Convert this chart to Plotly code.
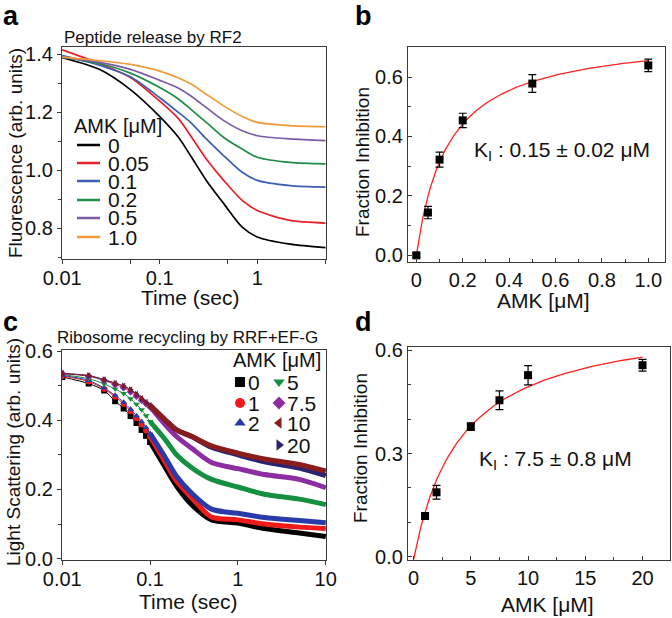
import numpy as np
import plotly.graph_objects as go

# ---------------- data ----------------
# Panel a: peptide release (fluorescence traces)
a_time = [0.01, 0.024, 0.05, 0.1, 0.156, 0.207, 0.3, 0.453, 0.7, 1.0, 2.17, 5.0]
a_labels = ["0", "0.05", "0.1", "0.2", "0.5", "1.0"]
a_black  = [1.388, 1.348, 1.278, 1.185, 1.113, 1.050, 0.965, 0.885, 0.804, 0.770, 0.745, 0.733]
a_red    = [1.415, 1.368, 1.320, 1.238, 1.177, 1.119, 1.039, 0.965, 0.896, 0.861, 0.827, 0.818]
a_blue   = [1.395, 1.362, 1.322, 1.250, 1.199, 1.165, 1.108, 1.050, 0.993, 0.965, 0.947, 0.942]
a_green  = [1.390, 1.368, 1.335, 1.285, 1.245, 1.211, 1.165, 1.113, 1.073, 1.045, 1.027, 1.022]
a_purple = [1.390, 1.372, 1.348, 1.310, 1.283, 1.257, 1.216, 1.171, 1.136, 1.119, 1.108, 1.102]
a_orange = [1.390, 1.378, 1.365, 1.342, 1.318, 1.298, 1.262, 1.222, 1.185, 1.165, 1.154, 1.150]

# Panel b: fraction inhibition vs AMK (peptide release)
b_amk = [0, 0.05, 0.1, 0.2, 0.5, 1.0]
b_frac = [0.0, 0.144, 0.322, 0.454, 0.578, 0.639]
b_err = [0.006, 0.021, 0.025, 0.024, 0.030, 0.021]
b_fit_max, b_fit_k = 0.745, 0.137

# Panel c: ribosome recycling (light scattering traces)
c_time = [0.01, 0.02, 0.03, 0.04, 0.05, 0.06, 0.07, 0.08, 0.09, 0.1, 0.15, 0.2, 0.3, 0.5, 1, 2, 5, 10]
c_labels = ["0", "1", "2", "5", "7.5", "10", "20"]
c_0   = [0.525, 0.506, 0.486, 0.455, 0.434, 0.412, 0.392, 0.372, 0.355, 0.337, 0.262, 0.210, 0.155, 0.112, 0.103, 0.087, 0.074, 0.064]
c_1   = [0.528, 0.512, 0.490, 0.468, 0.447, 0.426, 0.406, 0.388, 0.370, 0.353, 0.277, 0.224, 0.175, 0.120, 0.112, 0.100, 0.091, 0.087]
c_2   = [0.530, 0.515, 0.493, 0.472, 0.452, 0.432, 0.413, 0.396, 0.379, 0.362, 0.291, 0.238, 0.188, 0.143, 0.131, 0.119, 0.110, 0.104]
c_5   = [0.532, 0.520, 0.505, 0.490, 0.477, 0.462, 0.446, 0.430, 0.413, 0.396, 0.343, 0.300, 0.262, 0.229, 0.207, 0.186, 0.172, 0.156]
c_7_5 = [0.535, 0.527, 0.515, 0.503, 0.494, 0.482, 0.470, 0.458, 0.448, 0.439, 0.386, 0.353, 0.318, 0.278, 0.260, 0.243, 0.229, 0.205]
c_10  = [0.535, 0.529, 0.517, 0.507, 0.499, 0.488, 0.475, 0.463, 0.452, 0.443, 0.400, 0.372, 0.353, 0.326, 0.305, 0.288, 0.272, 0.253]
c_20  = [0.535, 0.529, 0.517, 0.507, 0.499, 0.488, 0.475, 0.463, 0.452, 0.443, 0.400, 0.372, 0.352, 0.322, 0.300, 0.280, 0.262, 0.240]

# Panel d: fraction inhibition vs AMK (recycling)
d_amk = [1, 2, 5, 7.5, 10, 20]
d_frac = [0.118, 0.187, 0.378, 0.455, 0.528, 0.557]
d_err = [0.008, 0.020, 0.011, 0.027, 0.028, 0.017]
d_fit_max, d_fit_k, d_fit_x0 = 0.703, 4.2, 0.05

# ---------------- styling ----------------
W, H = 672, 618
REG = "Liberation Sans, Arial, sans-serif"
AX = "#3a3a3a"

def px(x):
    return x / W

def py(y):
    return 1 - y / H

a_colors = ["#000000", "#e8202a", "#3b5fb3", "#1f8c48", "#7d5aa8", "#f39a38"]
c_colors = ["#000000", "#f01a1a", "#2a3aa8", "#159040", "#8e2ca2", "#8b1c1c", "#2b2470"]
c_symbols = ["square", "circle", "triangle-up", "triangle-down", "diamond", "triangle-left", "triangle-right"]

fig = go.Figure()

# Panel a
a_series = [a_black, a_red, a_blue, a_green, a_purple, a_orange]
for vals, col in zip(a_series, a_colors):
    fig.add_trace(go.Scatter(x=a_time, y=vals, mode="lines", line=dict(color=col, width=1.7, shape="spline", smoothing=0.8),
                             xaxis="x", yaxis="y", showlegend=False))

# Panel b
bx = np.linspace(0, 1.0, 200)
fig.add_trace(go.Scatter(x=bx, y=b_fit_max * bx / (b_fit_k + bx), mode="lines", line=dict(color="#ff2020", width=1.3),
                         xaxis="x2", yaxis="y2", showlegend=False))
fig.add_trace(go.Scatter(x=b_amk, y=b_frac, mode="markers", marker=dict(symbol="square", size=8, color="#000000"),
                         error_y=dict(type="data", array=b_err, color="#000000", thickness=1.2, width=4),
                         xaxis="x2", yaxis="y2", showlegend=False))

# Panel c
c_series = [c_0, c_1, c_2, c_5, c_7_5, c_20, c_10]
c_order_cols = [c_colors[i] for i in [0, 1, 2, 3, 4, 6, 5]]
c_order_syms = [c_symbols[i] for i in [0, 1, 2, 3, 4, 6, 5]]
n_early = 10
for vals, col, sym in zip(c_series, c_order_cols, c_order_syms):
    fig.add_trace(go.Scatter(x=c_time, y=vals, mode="lines", line=dict(color=col, width=1, shape="spline", smoothing=0.8),
                             xaxis="x3", yaxis="y3", showlegend=False))
    fig.add_trace(go.Scatter(x=c_time[n_early - 1:], y=vals[n_early - 1:], mode="lines",
                             line=dict(color=col, width=5, shape="spline", smoothing=0.8),
                             xaxis="x3", yaxis="y3", showlegend=False))
    fig.add_trace(go.Scatter(x=c_time[:n_early], y=vals[:n_early], mode="markers",
                             marker=dict(symbol=sym, size=6, color=col),
                             xaxis="x3", yaxis="y3", showlegend=False))

# Panel d
dx = np.linspace(0, 20, 200)
fig.add_trace(go.Scatter(x=dx, y=d_fit_max * (dx - d_fit_x0) / (d_fit_k + dx - d_fit_x0), mode="lines",
                         line=dict(color="#ff2020", width=1.3), xaxis="x4", yaxis="y4", showlegend=False))
fig.add_trace(go.Scatter(x=d_amk, y=d_frac, mode="markers", marker=dict(symbol="square", size=8, color="#000000"),
                         error_y=dict(type="data", array=d_err, color="#000000", thickness=1.2, width=4),
                         xaxis="x4", yaxis="y4", showlegend=False))

# Legend overlay axis (pixel coordinates)
leg_a_rows = [145, 163, 181, 200, 218, 237]
for yy, col in zip(leg_a_rows, a_colors):
    fig.add_trace(go.Scatter(x=[77, 100], y=[yy, yy], mode="lines", line=dict(color=col, width=2.5),
                             xaxis="x5", yaxis="y5", showlegend=False))
leg_c_pos = [(240, 382), (240, 403), (240, 423), (279, 382), (279, 403), (279, 423), (279, 445)]
for (lx, ly), col, sym in zip(leg_c_pos, c_colors, c_symbols):
    fig.add_trace(go.Scatter(x=[lx], y=[ly], mode="markers", marker=dict(symbol=sym, size=10, color=col),
                             xaxis="x5", yaxis="y5", showlegend=False))

ann = []
def text(x, y, s, size, xanchor="center", font=REG, bold=False, angle=0, color="#111111"):
    ann.append(dict(x=px(x), y=py(y), xref="paper", yref="paper", text=("<b>%s</b>" % s) if bold else s,
                    showarrow=False, xanchor=xanchor, yanchor="middle", textangle=angle,
                    font=dict(size=size, family=font, color=color)))

# legend texts
text(72, 126, "AMK [μM]", 20, xanchor="left")
for yy, lab in zip(leg_a_rows, a_labels):
    text(106, yy, lab, 21, xanchor="left")
text(323, 360, "AMK [μM]", 20, xanchor="right")
for (lx, ly), lab in zip(leg_c_pos, c_labels):
    text(lx + 6, ly, lab, 21, xanchor="left")

# titles, panel letters
text(62, 37, "Peptide release by RF2", 17, xanchor="left")
text(55, 337, "Ribosome recycling by RRF+EF-G", 17, xanchor="left")
text(1, 16, "a", 27, xanchor="left", bold=True, color="#000")
text(353, 16, "b", 27, xanchor="left", bold=True, color="#000")
text(1, 322, "c", 27, xanchor="left", bold=True, color="#000")
text(353, 322, "d", 27, xanchor="left", bold=True, color="#000")

# axis titles
text(190, 297, "Time (sec)", 21)
text(15, 153, "Fluorescence (arb. units)", 19, angle=-90)
text(543, 300, "AMK [μM]", 21)
text(362, 162, "Fraction Inhibition", 19, angle=-90)
text(188, 601, "Time (sec)", 21)
text(13, 452, "Light Scattering (arb. units)", 19, angle=-90)
text(547, 604, "AMK [μM]", 21)
text(360, 448, "Fraction Inhibition", 19, angle=-90)

# K_I annotations
text(562, 151, "K<sub>I</sub> : 0.15 ± 0.02 μM", 21)
text(555, 460, "K<sub>I</sub> : 7.5 ± 0.8 μM", 21)

tickfont = dict(size=20, family=REG, color="#111111")
common = dict(showline=True, linecolor=AX, linewidth=1.3, mirror=True, showgrid=False, zeroline=False,
              tickfont=tickfont, ticklen=4, tickcolor=AX, tickwidth=1.2, automargin=False)

fig.update_layout(
    width=W, height=H, margin=dict(l=0, r=0, t=0, b=0, pad=0, autoexpand=False),
    plot_bgcolor="rgba(0,0,0,0)", paper_bgcolor="white",
    showlegend=False, annotations=ann,
    xaxis=dict(domain=[px(62), px(326)], type="log", range=[np.log10(0.00995), 0.704], anchor="y",
               tickvals=[0.01, 0.05, 0.1, 0.5, 1, 5], ticktext=["0.01", " ", "0.1", " ", "1", " "], ticks="outside",
               ticklabelstandoff=-3, **common),
    yaxis=dict(domain=[py(259), py(47)], range=[0.694, 1.425], anchor="x", tickvals=[0.8, 1.0, 1.2, 1.4],
               ticktext=["0.8", "1.0", "1.2", "1.4"], ticks="outside",
               minor=dict(tickvals=[0.7, 0.9, 1.1, 1.3], ticklen=3, tickcolor=AX, ticks="outside"), **common),
    xaxis2=dict(domain=[px(408), px(665)], range=[-0.036, 1.072], anchor="y2",
                tickvals=[0, 0.2, 0.4, 0.6, 0.8, 1.0], ticktext=["0", "0.2", "0.4", "0.6", "0.8", "1.0"], ticks="inside",
                minor=dict(dtick=0.1, ticklen=3, tickcolor=AX, ticks="inside"), **common),
    yaxis2=dict(domain=[py(262), py(47)], range=[-0.0225, 0.701], anchor="x2", dtick=0.2, tickformat=".1f", ticks="inside",
                minor=dict(dtick=0.1, ticklen=3, tickcolor=AX, ticks="inside"), **common),
    xaxis3=dict(domain=[px(62), px(326)], type="log", range=[-2.003, 1.003], anchor="y3",
                tickvals=[0.01, 0.1, 1, 10], ticktext=["0.01", "0.1", "1", "10"], ticks="outside",
                ticklabelstandoff=-3, **common),
    yaxis3=dict(domain=[py(560), py(350)], range=[-0.004, 0.603], anchor="x3", dtick=0.2, tickformat=".1f", ticks="outside",
                minor=dict(dtick=0.1, ticklen=3, tickcolor=AX, ticks="outside"), **common),
    xaxis4=dict(domain=[px(408), px(670)], range=[-0.49, 22.4], anchor="y4", dtick=5, ticks="inside",
                minor=dict(dtick=2.5, ticklen=3, tickcolor=AX, ticks="inside"), **common),
    yaxis4=dict(domain=[py(560), py(347)], range=[-0.01, 0.61], anchor="x4", dtick=0.3, tickformat=".1f", ticks="inside",
                minor=dict(dtick=0.1, ticklen=3, tickcolor=AX, ticks="inside"), **common),
    xaxis5=dict(domain=[0, 1], range=[0, W], visible=False, anchor="y5", automargin=False),
    yaxis5=dict(domain=[0, 1], range=[H, 0], visible=False, anchor="x5", automargin=False),
)

fig.write_html("out.html", config={"displayModeBar": False},
               post_script="document.body.style.margin='0px';")
